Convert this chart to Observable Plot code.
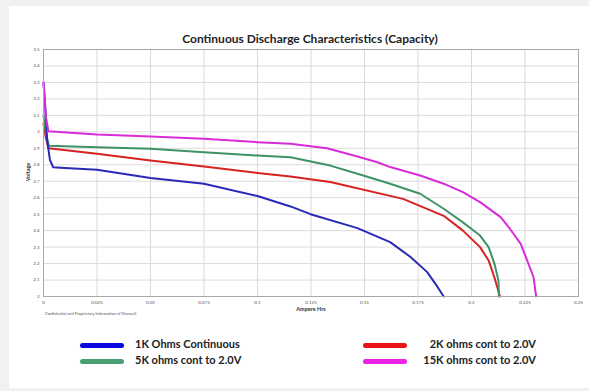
<!DOCTYPE html>
<html><head><meta charset="utf-8">
<script src="https://cdn.jsdelivr.net/npm/d3@7"></script>
<script src="https://cdn.jsdelivr.net/npm/@observablehq/plot@0.6"></script>
<style>
body{margin:0;background:#f1f1f1;width:589px;height:391px;overflow:hidden;font-family:Lato,"Open Sans",sans-serif;}
#panel{position:absolute;left:9px;top:6px;width:580px;height:382px;background:#fff;}
#title{position:absolute;left:0;width:620px;top:31px;text-align:center;font-weight:700;font-size:12px;color:#222;}
#chart{position:absolute;left:0;top:0;}
.lg{position:absolute;font-weight:700;font-size:11px;color:#222;white-space:nowrap;line-height:12px;}
.sw{position:absolute;height:5px;border-radius:3px;}
</style></head><body>
<div id="panel"></div>
<div id="title">Continuous Discharge Characteristics (Capacity)</div>
<div id="chart"></div>
<div id="legend"></div>
<script>
const seriesNames = ["1K Ohms Continuous","2K ohms cont to 2.0V","5K ohms cont to 2.0V","15K ohms cont to 2.0V"];
const lineColors = ["#2a2ab8","#d82222","#3f9266","#d92cd9"];
const legendColors = ["#0a0ae0","#ea1414","#4a9e72","#ee22e6"];

const x1K = [0, 0.001, 0.0017, 0.003, 0.0045, 0.01, 0.025, 0.05, 0.075, 0.1, 0.1154, 0.1248, 0.1467, 0.162, 0.1715, 0.1793, 0.183, 0.187];
const v1K = [3.3, 3.12, 2.95, 2.83, 2.785, 2.78, 2.77, 2.72, 2.685, 2.61, 2.547, 2.50, 2.415, 2.33, 2.24, 2.148, 2.08, 2.0];

const x2K = [0, 0.001, 0.0023, 0.025, 0.05, 0.075, 0.1, 0.1154, 0.134, 0.168, 0.187, 0.196, 0.204, 0.208, 0.2107, 0.2133];
const v2K = [3.05, 2.97, 2.90, 2.867, 2.826, 2.79, 2.75, 2.729, 2.695, 2.593, 2.49, 2.40, 2.30, 2.219, 2.117, 2.0];

const x5K = [0, 0.001, 0.0025, 0.025, 0.05, 0.075, 0.1, 0.1154, 0.134, 0.1467, 0.162, 0.176, 0.187, 0.196, 0.204, 0.208, 0.2107, 0.2126, 0.2128];
const v5K = [3.1, 3.0, 2.915, 2.907, 2.897, 2.876, 2.856, 2.846, 2.795, 2.745, 2.685, 2.624, 2.533, 2.45, 2.37, 2.30, 2.20, 2.097, 2.0];

const x15K = [0, 0.001, 0.0023, 0.025, 0.05, 0.075, 0.1, 0.1154, 0.1325, 0.1467, 0.156, 0.162, 0.176, 0.187, 0.196, 0.204, 0.2136, 0.218, 0.223, 0.226, 0.229, 0.2302];
const v15K = [3.3, 3.1, 3.004, 2.984, 2.972, 2.958, 2.937, 2.927, 2.90, 2.85, 2.815, 2.786, 2.735, 2.685, 2.634, 2.573, 2.482, 2.41, 2.32, 2.219, 2.117, 2.0];

const xTicks = [0, 0.025, 0.05, 0.075, 0.1, 0.125, 0.15, 0.175, 0.2, 0.225, 0.25];
const xTickLabels = ["0","0.025","0.05","0.075","0.1","0.125","0.15","0.175","0.2","0.225","0.25"];
const yTicks = [2, 2.1, 2.2, 2.3, 2.4, 2.5, 2.6, 2.7, 2.8, 2.9, 3, 3.1, 3.2, 3.3, 3.4, 3.5];
const yTickLabels = ["2","2.1","2.2","2.3","2.4","2.5","2.6","2.7","2.8","2.9","3","3.1","3.2","3.3","3.4","3.5"];

const xs = [x1K, x2K, x5K, x15K];
const vs = [v1K, v2K, v5K, v15K];
const rows = [];
seriesNames.forEach((s, i) => xs[i].forEach((x, j) => rows.push({series: s, x, v: vs[i][j]})));
const order = [seriesNames[1], seriesNames[2], seriesNames[0], seriesNames[3]];

const chart = Plot.plot({
  width: 589, height: 322,
  marginLeft: 43, marginRight: 11, marginTop: 49, marginBottom: 26,
  style: {background: "transparent", fontFamily: "Lato, sans-serif"},
  x: {domain: [0, 0.25], ticks: xTicks, tickFormat: (d, i) => xTickLabels[i], tickSize: 0, tickPadding: 5, label: null},
  y: {domain: [2, 3.5], ticks: yTicks, tickFormat: (d, i) => yTickLabels[i], tickSize: 0, tickPadding: 5, label: null},
  color: {domain: seriesNames, range: lineColors},
  marks: [
    Plot.gridX(xTicks, {stroke: "#d9d9d9", strokeOpacity: 1, strokeWidth: 1}),
    Plot.gridY(yTicks, {stroke: "#dcdcdc", strokeOpacity: 1, strokeWidth: 1}),
    Plot.axisX(xTicks, {tickFormat: (d, i) => xTickLabels[i], tickSize: 0, tickPadding: 4, fontSize: 4.5, fill: "#555", label: null}),
    Plot.axisY(yTicks, {tickFormat: (d, i) => yTickLabels[i], tickSize: 0, tickPadding: 4, fontSize: 4.5, fill: "#555", label: null}),
    ...order.map(s => Plot.line(rows.filter(r => r.series === s), {x: "x", y: "v", stroke: "series", strokeWidth: 2, curve: "linear"})),
    Plot.frame({stroke: "#a8a8a8", strokeWidth: 1})
  ]
});
document.getElementById("chart").appendChild(chart);

const svg = d3.select(chart);
svg.append("text").attr("x", 311).attr("y", 311).attr("text-anchor", "middle")
  .attr("font-size", 5.5).attr("font-weight", 700).attr("fill", "#333").text("Ampere Hrs");
svg.append("text").attr("transform", "translate(30,172) rotate(-90)").attr("text-anchor", "middle")
  .attr("font-size", 5.5).attr("font-weight", 700).attr("fill", "#333").text("Voltage");
svg.append("text").attr("x", 45).attr("y", 315).attr("text-anchor", "start").attr("font-size", 4).attr("fill", "#555")
  .text("Confidential and Proprietary Information of Duracell");

const legendPos = [
  {sw: [80, 345], tx: 135, ty: 345, align: "left"},
  {sw: [363, 345], tx: 536, ty: 345, align: "right"},
  {sw: [80, 361], tx: 135, ty: 361, align: "left"},
  {sw: [363, 361], tx: 536, ty: 361, align: "right"}
];
const lg = document.getElementById("legend");
seriesNames.forEach((s, i) => {
  const p = legendPos[i];
  const sw = document.createElement("div");
  sw.className = "sw";
  sw.style.left = p.sw[0] + "px"; sw.style.top = (p.sw[1] - 2.5) + "px";
  sw.style.width = "44px"; sw.style.background = legendColors[i];
  lg.appendChild(sw);
  const t = document.createElement("div");
  t.className = "lg"; t.textContent = s;
  t.style.top = (p.ty - 7) + "px";
  if (p.align === "left") t.style.left = p.tx + "px";
  else t.style.right = (589 - p.tx) + "px";
  lg.appendChild(t);
});
</script>
</body></html>
